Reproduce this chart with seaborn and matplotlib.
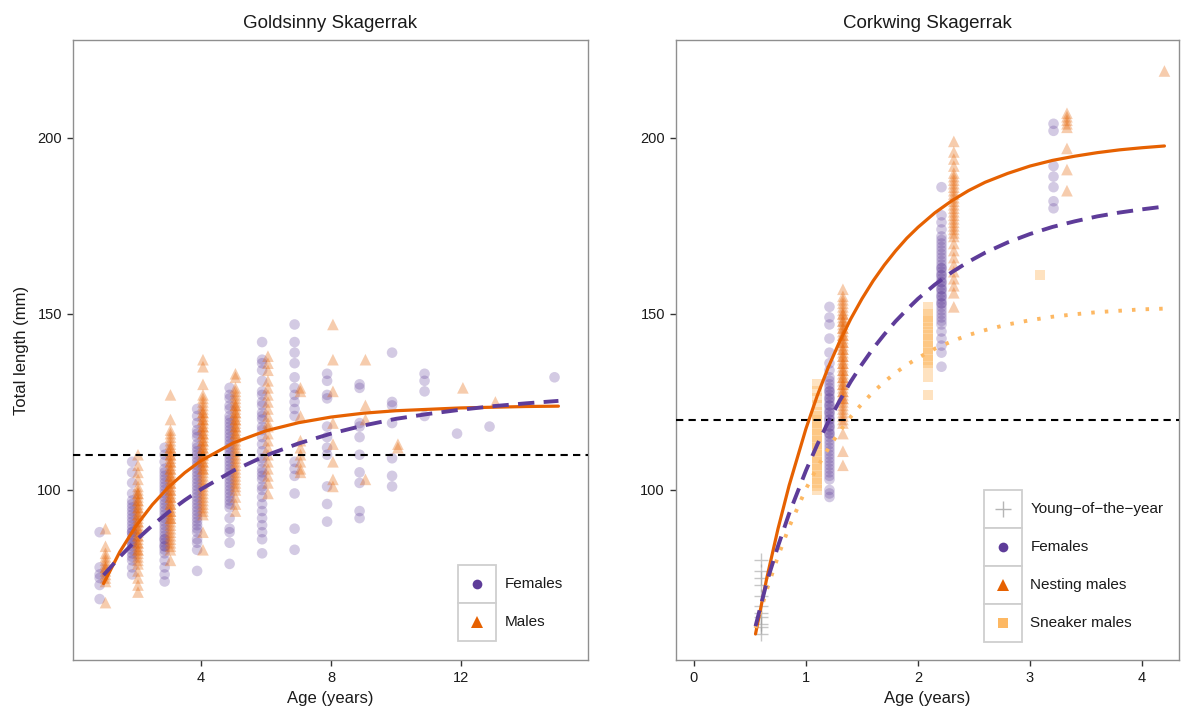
import matplotlib
matplotlib.use("Agg")
import matplotlib.pyplot as plt
import numpy as np
import pandas as pd
import seaborn as sns
from matplotlib.legend_handler import HandlerBase
from matplotlib.patches import Rectangle
from matplotlib.lines import Line2D

# ---------------- data ----------------
# Goldsinny Skagerrak: total length (mm) by age (years)
gold_female = {
    1: [88, 78, 76, 75, 73, 69],
    2: [108, 105, 102, 99, 97, 96, 95, 94, 93, 92, 91, 90, 89, 88, 88, 87, 86, 85, 85, 84, 83, 82, 81, 80, 78, 76],
    3: [112, 110, 108, 106, 105, 104, 103, 102, 101, 100, 99, 98, 97, 96, 95, 94, 93, 92, 91, 90, 89, 88, 87, 86,
        86, 85, 84, 84, 83, 82, 80, 78, 76, 74],
    4: [123, 121, 119, 117, 116, 115, 113, 112, 111, 110, 109, 108, 107, 106, 105, 104, 103, 102, 101, 100, 99, 98,
        97, 96, 95, 94, 93, 92, 91, 90, 89, 88, 86, 85, 83, 77],
    5: [129, 127, 126, 124, 123, 121, 120, 119, 118, 117, 116, 115, 114, 113, 112, 111, 110, 109, 108, 107, 106, 105,
        104, 103, 102, 101, 100, 99, 98, 97, 96, 95, 92, 89, 88, 85, 79],
    6: [142, 137, 136, 134, 131, 128, 127, 125, 124, 122, 121, 120, 118, 117, 115, 113, 111, 109, 108, 106, 105, 104,
        103, 101, 100, 98, 96, 94, 92, 90, 88, 86, 82],
    7: [147, 142, 139, 136, 132, 129, 127, 125, 123, 121, 108, 106, 104, 99, 89, 83],
    8: [133, 131, 127, 126, 118, 115, 112, 110, 101, 96, 91],
    9: [130, 129, 119, 118, 115, 110, 105, 102, 94, 92],
    10: [139, 125, 124, 119, 109, 104, 101],
    11: [133, 131, 128, 121],
    12: [116],
    13: [118],
    15: [132],
}
gold_male = {
    1: [89, 84, 82, 81, 80, 79, 78, 78, 77, 76, 75, 74, 68],
    2: [110, 107, 105, 103, 101, 100, 99, 99, 98, 97, 97, 96, 95, 95, 94, 93, 93, 92, 91, 91, 90, 89, 89, 88, 87,
        87, 86, 85, 85, 84, 83, 83, 82, 81, 80, 79, 77, 75, 73, 71],
    3: [127, 120, 117, 116, 115, 114, 113, 112, 112, 111, 110, 110, 109, 108, 108, 107, 106, 106, 105, 104, 104, 103,
        102, 102, 101, 100, 100, 99, 98, 98, 97, 96, 96, 95, 94, 94, 93, 92, 92, 91, 90, 89, 88, 87, 86, 85, 84, 83, 80],
    4: [137, 135, 130, 127, 126, 125, 124, 123, 122, 122, 121, 120, 120, 119, 118, 118, 117, 116, 116, 115, 114, 114,
        113, 112, 112, 111, 110, 110, 109, 108, 108, 107, 106, 106, 105, 104, 103, 102, 101, 100, 99, 98, 97, 96, 95,
        94, 93, 88, 83],
    5: [133, 132, 129, 128, 127, 126, 125, 124, 124, 123, 122, 122, 121, 120, 120, 119, 118, 118, 117, 116, 116, 115,
        114, 113, 112, 111, 110, 109, 108, 107, 106, 105, 104, 103, 102, 101, 100, 98, 96, 94],
    6: [138, 136, 134, 131, 129, 127, 125, 123, 121, 119, 118, 116, 114, 112, 110, 108, 106, 104, 102, 99],
    7: [129, 128, 121, 114, 112, 110, 108, 106, 105],
    8: [147, 137, 128, 119, 113, 108, 103, 101],
    9: [137, 124, 120, 103],
    10: [113, 112],
    12: [129],
    13: [125],
}
# growth curves
gold_curve_age = [1, 1.5, 2, 2.5, 3, 3.5, 4, 5, 6, 7, 8, 9, 10, 11, 12, 13, 14, 15]
gold_male_curve = [73.4, 82.4, 89.8, 95.8, 100.8, 104.9, 108.3, 113.4, 116.8, 119.1, 120.7, 121.8, 122.5, 122.9,
                   123.3, 123.5, 123.7, 123.8]
gold_female_curve = [75.8, 81.0, 85.7, 89.9, 93.7, 97.1, 100.2, 105.5, 109.8, 113.2, 116.0, 118.3, 120.2, 121.6,
                     122.8, 123.8, 124.6, 125.3]
gold_threshold = 110

# Corkwing Skagerrak
cork_yoy = {0.6: [80, 77, 75, 73, 70, 67, 65, 64, 62, 61, 59]}
cork_female = {
    1.21: [152, 149, 147, 143, 139, 136, 134, 132, 131, 130, 129, 128, 128, 127, 126, 126, 125, 124, 124, 123, 122,
           122, 121, 120, 120, 119, 118, 118, 117, 116, 116, 115, 114, 113, 112, 111, 110, 109, 108, 107, 106, 105,
           104, 103, 100, 99, 98],
    2.21: [186, 178, 176, 174, 172, 171, 170, 169, 168, 167, 166, 165, 164, 163, 163, 162, 161, 161, 160, 159, 159,
           158, 157, 157, 156, 155, 155, 154, 153, 153, 152, 151, 150, 149, 148, 147, 145, 143, 141, 139, 135],
    3.21: [204, 202, 192, 189, 186, 182, 180],
}
cork_nesting = {
    1.33: [157, 155, 154, 153, 152, 151, 150, 150, 149, 148, 148, 147, 146, 146, 145, 144, 144, 143, 142, 142, 141,
           140, 140, 139, 138, 138, 137, 136, 136, 135, 134, 134, 133, 132, 132, 131, 130, 130, 129, 128, 128, 127,
           126, 126, 125, 124, 123, 122, 121, 120, 119, 116, 111, 107],
    2.32: [199, 196, 194, 192, 190, 189, 188, 187, 186, 185, 184, 183, 182, 181, 180, 179, 178, 177, 176, 175, 174,
           173, 172, 170, 168, 166, 164, 162, 160, 158, 156, 152],
    3.33: [207, 206, 205, 204, 203, 197, 191, 185],
    4.2: [219],
}
cork_sneaker = {
    1.1: [130, 128, 126, 124, 122, 121, 120, 119, 118, 117, 116, 115, 114, 113, 112, 111, 110, 109, 108, 107, 106,
          105, 104, 103, 102, 101, 100],
    2.09: [152, 150, 149, 148, 147, 146, 145, 144, 143, 142, 141, 140, 139, 138, 137, 136, 135, 132, 127],
    3.09: [161],
}
cork_curve_age = [0.55, 0.65, 0.75, 0.85, 1.0, 1.1, 1.2, 1.3, 1.4, 1.5, 1.6, 1.7, 1.8, 1.9, 2.0, 2.15, 2.3, 2.45,
                  2.6, 2.8, 3.0, 3.2, 3.4, 3.6, 3.8, 4.0, 4.2]
cork_nesting_curve = [59.1, 74.9, 88.9, 101.3, 117.4, 126.7, 134.9, 142.1, 148.6, 154.3, 159.4, 163.9, 167.9, 171.5,
                      174.6, 178.7, 182.1, 185.0, 187.4, 189.9, 192.0, 193.6, 194.8, 195.8, 196.6, 197.2, 197.7]
cork_female_curve = [61.3, 73.8, 84.0, 93.3, 105.5, 112.8, 119.4, 125.3, 130.8, 135.7, 140.2, 144.2, 147.9, 151.2,
                     154.3, 158.3, 161.8, 164.8, 167.4, 170.3, 172.7, 174.7, 176.3, 177.7, 178.8, 179.7, 180.5]
cork_sneaker_curve = [60.8, 71.6, 81.1, 89.5, 100.3, 106.4, 111.8, 116.6, 120.8, 124.5, 127.8, 130.7, 133.3, 135.5,
                      137.5, 140.1, 142.2, 144.0, 145.4, 147.0, 148.2, 149.2, 149.9, 150.5, 150.9, 151.3, 151.5]
cork_threshold = 120

# ---------------- styling ----------------
PURPLE = "#5e3c99"
ORANGE = "#e66101"
PEACH = "#fdb863"
GREY = "#9a9a9a"

sns.set_style("white")
plt.rcParams["font.family"] = ["Liberation Sans", "DejaVu Sans"]


def long_df(groups, offset=0.0):
    rows = []
    for age, vals in groups.items():
        for v in vals:
            rows.append((age + offset, v))
    return pd.DataFrame(rows, columns=["age", "length"])


fig = plt.figure(figsize=(11.81, 7.13), dpi=100)
axL = fig.add_axes([73 / 1181, 1 - 660 / 713, (588 - 73) / 1181, 620 / 713])
axR = fig.add_axes([676 / 1181, 1 - 660 / 713, (1179 - 676) / 1181, 620 / 713])

CIRC_S, TRI_S, SQ_S = 58, 70, 52

# ---- left panel ----
sns.scatterplot(data=long_df(gold_female, -0.12), x="age", y="length", ax=axL, marker="o", s=CIRC_S,
                color=PURPLE, alpha=0.27, edgecolor="none", legend=False)
sns.scatterplot(data=long_df(gold_male, 0.06), x="age", y="length", ax=axL, marker="^", s=TRI_S,
                color=ORANGE, alpha=0.32, edgecolor="none", legend=False)
axL.axhline(gold_threshold, color="black", lw=1.5, dashes=(3.5, 2.5), zorder=3)
sns.lineplot(x=gold_curve_age, y=gold_male_curve, ax=axL, color=ORANGE, lw=2.3,
             sort=False, estimator=None, zorder=4)
sns.lineplot(x=gold_curve_age, y=gold_female_curve, ax=axL, color=PURPLE, lw=2.8,
             linestyle=(0, (4.2, 2.4)), sort=False, estimator=None, zorder=5)

# ---- right panel ----
sns.scatterplot(data=long_df(cork_yoy), x="age", y="length", ax=axR, marker="+", s=100,
                color=GREY, alpha=0.55, linewidth=1.0, legend=False)
sns.scatterplot(data=long_df(cork_sneaker), x="age", y="length", ax=axR, marker="s", s=SQ_S,
                color=PEACH, alpha=0.4, edgecolor="none", legend=False)
sns.scatterplot(data=long_df(cork_female), x="age", y="length", ax=axR, marker="o", s=CIRC_S,
                color=PURPLE, alpha=0.27, edgecolor="none", legend=False)
sns.scatterplot(data=long_df(cork_nesting), x="age", y="length", ax=axR, marker="^", s=TRI_S,
                color=ORANGE, alpha=0.32, edgecolor="none", legend=False)
axR.axhline(cork_threshold, color="black", lw=1.5, dashes=(3.5, 2.5), zorder=3)
sns.lineplot(x=cork_curve_age, y=cork_nesting_curve, ax=axR, color=ORANGE, lw=2.3,
             sort=False, estimator=None, zorder=4)
sns.lineplot(x=cork_curve_age, y=cork_female_curve, ax=axR, color=PURPLE, lw=2.8,
             linestyle=(0, (4.2, 2.4)), sort=False, estimator=None, zorder=5)
sns.lineplot(x=cork_curve_age, y=cork_sneaker_curve, ax=axR, color=PEACH, lw=2.8,
             linestyle=(0, (0.9, 2.6)), sort=False, estimator=None, zorder=4)

# ---- axes cosmetics ----
for ax in (axL, axR):
    ax.set_ylim(51.7, 227.8)
    ax.set_yticks([100, 150, 200])
    for sp in ax.spines.values():
        sp.set_visible(True)
        sp.set_color("#8f8f8f")
        sp.set_linewidth(1.0)
    ax.tick_params(axis="both", which="major", length=4, width=1.0, color="#333333",
                   labelsize=10.5, labelcolor="#1a1a1a", pad=4, bottom=True, left=True)
    ax.grid(False)
    ax.set_xlabel("Age (years)", fontsize=12, color="#1a1a1a", labelpad=4)

axL.set_xlim(0.06, 15.91)
axL.set_xticks([4, 8, 12])
axL.set_ylabel("Total length (mm)", fontsize=12, color="#1a1a1a", labelpad=6)
axL.set_title("Goldsinny Skagerrak", fontsize=13.5, color="#1a1a1a", pad=9)

axR.set_xlim(-0.16, 4.33)
axR.set_xticks([0, 1, 2, 3, 4])
axR.set_ylabel("")
axR.set_title("Corkwing Skagerrak", fontsize=13.5, color="#1a1a1a", pad=9)


# ---- ggplot-like legends with boxed keys ----
class BoxKey(HandlerBase):
    def create_artists(self, legend, orig_handle, xdescent, ydescent, width, height, fontsize, trans):
        rect = Rectangle((-xdescent, -ydescent), width, height, facecolor="white",
                         edgecolor="#cfcfcf", lw=1.3, transform=trans)
        m = Line2D([-xdescent + width / 2], [-ydescent + height / 2], linestyle="none",
                   marker=orig_handle.get_marker(), markersize=orig_handle.get_markersize(),
                   color=orig_handle.get_color(), markeredgewidth=orig_handle.get_markeredgewidth(),
                   transform=trans)
        return [rect, m]


def key(marker, color, size, mew=0.0):
    return Line2D([], [], linestyle="none", marker=marker, color=color, markersize=size,
                  markeredgewidth=mew)


leg_kw = dict(frameon=False, handler_map={Line2D: BoxKey()}, fontsize=11, handlelength=2.5,
              handleheight=3.45, labelspacing=0.0, handletextpad=0.55, borderpad=0.0,
              borderaxespad=0.0, loc="lower left")
legL = axL.legend([key("o", PURPLE, 7), key("^", ORANGE, 8)], ["Females", "Males"],
                  bbox_to_anchor=(0.7476, 0.0306), **leg_kw)
for t in legL.get_texts():
    t.set_color("#1a1a1a")
legR = axR.legend([key("+", "#b5b5b5", 11, 1.0), key("o", PURPLE, 7), key("^", ORANGE, 8), key("s", PEACH, 7)],
                  ["Young\u2212of\u2212the\u2212year", "Females", "Nesting males", "Sneaker males"],
                  bbox_to_anchor=(0.612, 0.029), **leg_kw)
for t in legR.get_texts():
    t.set_color("#1a1a1a")

fig.savefig("out.png", dpi=100)
